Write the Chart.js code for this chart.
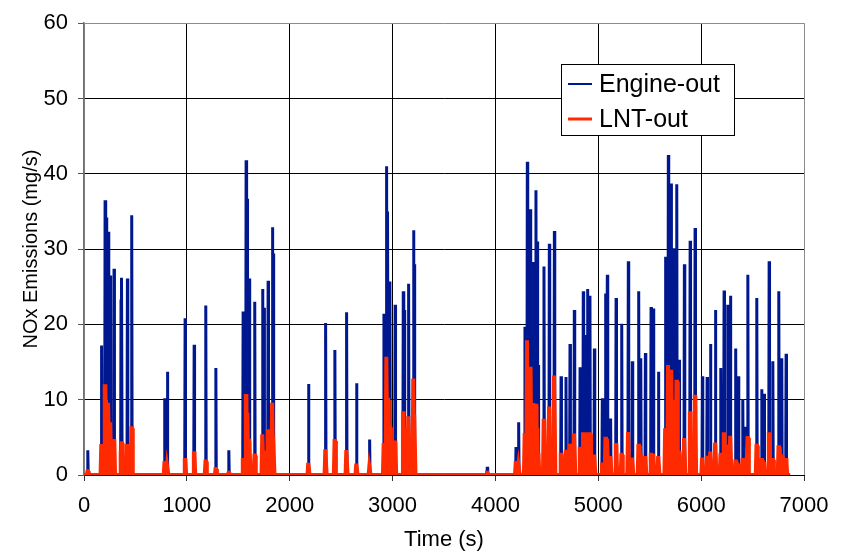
<!DOCTYPE html>
<html>
<head>
<meta charset="utf-8">
<script src="https://cdn.jsdelivr.net/npm/chart.js@4"></script>
<style>
  html, body { margin: 0; padding: 0; background: #fff; }
  #wrap { width: 843px; height: 553px; }
</style>
</head>
<body>
<div id="wrap"><canvas id="nox"></canvas></div>
<script>
// NOx traces over a drive cycle: engine-out vs. downstream of the lean NOx trap
const seriesLabels = ['Engine-out', 'LNT-out'];
const xTicks = [0, 1000, 2000, 3000, 4000, 5000, 6000, 7000];
const yTicks = [0, 10, 20, 30, 40, 50, 60];
const endTime = 6865;

// event times (s)
const spikeTimes = [
  37, 171, 205, 217, 237, 257, 292, 360, 367, 422, 464,
  785, 811, 983, 1071, 1184, 1282, 1408,
  1547, 1576, 1586, 1609, 1660, 1736, 1750, 1790, 1832, 1842,
  2183, 2349, 2439, 2553, 2650, 2777,
  2916, 2942, 2953, 2974, 3025, 3104, 3114, 3156, 3204, 3213,
  3921, 4200, 4226, 4287, 4310, 4339, 4365, 4394, 4405, 4416,
  4472, 4524, 4573, 4638, 4686, 4725, 4767, 4823, 4854, 4866,
  4897, 4919, 4962, 5039, 5072, 5088, 5120, 5173, 5228, 5292,
  5331, 5393, 5413, 5458, 5513, 5535, 5585, 5653, 5681, 5707,
  5730, 5763, 5786, 5837, 5893, 5941, 6012, 6058, 6091, 6139,
  6191, 6223, 6259, 6285, 6336, 6362, 6405, 6428, 6454, 6541,
  6590, 6612, 6661, 6697, 6755, 6784, 6826
];

// engine-out peaks (mg/s)
const enginePeaks = [
  3.3, 17.2, 36.5, 34.2, 32.3, 26.5, 27.4, 23.3, 26.2, 26.1, 34.5,
  10.2, 13.7, 20.8, 17.3, 22.5, 14.2, 3.3,
  21.7, 41.8, 36.7, 26.1, 23.0, 24.7, 22.2, 25.8, 32.9, 29.4,
  12.1, 20.2, 16.6, 21.6, 12.2, 4.7,
  21.4, 41.0, 35.0, 25.7, 22.6, 24.4, 21.9, 25.4, 32.5, 28.0,
  1.1, 3.7, 7.0, 19.7, 41.6, 35.3, 28.3, 37.8, 31.0, 14.6,
  27.7, 30.7, 32.4, 13.1, 13.0, 17.4, 21.9, 14.3, 24.4, 18.6,
  24.7, 23.8, 16.8, 10.2, 24.1, 26.6, 7.5, 23.5, 20.1, 28.4,
  15.1, 24.4, 15.5, 16.2, 22.3, 22.1, 13.7, 29.0, 42.5, 38.7,
  30.1, 38.6, 15.3, 28.0, 31.1, 32.8, 13.1, 13.0, 17.4, 21.9,
  14.2, 24.5, 22.6, 23.8, 16.8, 13.1, 10.1, 6.4, 26.6, 23.5,
  11.4, 10.8, 28.4, 15.1, 24.4, 15.5, 16.1
];

// LNT-out peaks (mg/s)
const lntPeaks = [
  0.5, 4.1, 11.8, 10.0, 9.6, 7.0, 4.5, 3.0, 4.2, 4.1, 6.2,
  1.6, 1.2, 2.0, 2.9, 1.8, 0.8, 0.3,
  2.0, 10.5, 8.0, 4.8, 2.6, 5.4, 3.0, 5.8, 9.6, 5.0,
  1.6, 3.4, 4.5, 3.3, 1.5, 1.1,
  4.0, 15.7, 10.0, 6.3, 4.3, 8.2, 6.0, 7.8, 12.8, 8.0,
  0.3, 1.6, 1.4, 5.3, 17.9, 14.1, 9.3, 9.2, 6.0, 2.7,
  7.2, 9.1, 13.2, 2.7, 3.1, 3.9, 5.5, 3.5, 5.4, 4.0,
  5.4, 5.4, 2.7, 1.4, 4.8, 4.8, 2.5, 4.0, 2.7, 5.7,
  2.3, 3.9, 2.5, 2.5, 2.7, 2.8, 2.5, 6.2, 14.6, 13.7,
  10.0, 12.4, 3.0, 4.9, 8.2, 10.4, 2.3, 2.3, 3.1, 4.3,
  2.7, 5.4, 3.8, 5.2, 1.8, 1.5, 2.0, 1.5, 4.9, 3.9,
  2.0, 1.5, 5.4, 2.0, 3.7, 2.5, 2.0
];

const BLUE = '#00188f';
const RED = '#ff2a00';
const FONT = '"Liberation Sans", Arial, sans-serif';

// each event rises from the zero line to its peak and drops back
function trace(peaks, half, top) {
  const pts = [{ x: 0, y: 0 }];
  spikeTimes.forEach((t, i) => {
    pts.push({ x: t - half, y: 0 });
    if (top) {
      pts.push({ x: t - top, y: peaks[i] });
      pts.push({ x: t + top, y: peaks[i] });
    } else {
      pts.push({ x: t, y: peaks[i] });
    }
    pts.push({ x: t + half, y: 0 });
  });
  pts.push({ x: endTime, y: 0 });
  return pts;
}

const boxLegend = {
  id: 'boxLegend',
  afterDraw(chart) {
    const ctx = chart.ctx;
    ctx.save();
    ctx.fillStyle = '#fff';
    ctx.fillRect(561.5, 64.5, 173, 71);
    ctx.strokeStyle = '#000';
    ctx.lineWidth = 1;
    ctx.strokeRect(561.5, 64.5, 173, 71);
    const rows = [
      { label: seriesLabels[0], color: BLUE, width: 2, y: 84 },
      { label: seriesLabels[1], color: RED, width: 3, y: 119 },
    ];
    ctx.font = '25px ' + FONT;
    ctx.textBaseline = 'middle';
    rows.forEach((r) => {
      ctx.strokeStyle = r.color;
      ctx.lineWidth = r.width;
      ctx.beginPath();
      ctx.moveTo(568, r.y);
      ctx.lineTo(592, r.y);
      ctx.stroke();
      ctx.fillStyle = '#000';
      ctx.fillText(r.label, 599, r.y + 1);
    });
    ctx.restore();
  },
};

new Chart(document.getElementById('nox'), {
  type: 'line',
  data: {
    datasets: [
      {
        label: seriesLabels[1],
        data: trace(lntPeaks, 10, 3),
        borderColor: RED,
        borderWidth: 4,
        pointRadius: 0,
        tension: 0,
        order: 0,
      },
      {
        label: seriesLabels[0],
        data: trace(enginePeaks, 4, 0),
        borderColor: BLUE,
        borderWidth: 3,
        pointRadius: 0,
        tension: 0,
        order: 1,
      },
    ],
  },
  options: {
    responsive: true,
    maintainAspectRatio: false,
    animation: false,
    layout: { padding: { top: 21, right: 39, left: 0, bottom: 0 } },
    plugins: { legend: { display: false }, tooltip: { enabled: false } },
    scales: {
      x: {
        type: 'linear',
        min: 0,
        max: 7000,
        afterBuildTicks: (s) => { s.ticks = xTicks.map((v) => ({ value: v })); },
        afterFit: (s) => { s.height = 78; },
        border: { color: '#000', width: 1 },
        grid: {
          color: (c) => (c.tick && (c.tick.value === 7000 || c.tick.value === 0) ? '#8c8c8c' : '#000'),
          tickColor: '#333',
          tickLength: 6,
          lineWidth: 1,
        },
        ticks: {
          color: '#000',
          padding: 12,
          maxRotation: 0,
          font: { family: FONT, size: 22 },
          callback: (v) => String(v),
        },
        title: {
          display: true,
          text: 'Time (s)',
          color: '#000',
          padding: { top: 0, bottom: 0 },
          font: { family: FONT, size: 22 },
        },
      },
      y: {
        min: 0,
        max: 60,
        afterBuildTicks: (s) => { s.ticks = yTicks.map((v) => ({ value: v })); },
        afterFit: (s) => { s.width = 84; },
        border: { color: '#707070', width: 1.5 },
        grid: {
          color: (c) => (c.tick && c.tick.value === 60 ? '#8c8c8c' : '#000'),
          tickColor: '#555',
          tickLength: 6,
          lineWidth: 1,
        },
        ticks: {
          color: '#000',
          padding: 10,
          font: { family: FONT, size: 22 },
          callback: (v) => String(v),
        },
        title: {
          display: true,
          text: 'NOx Emissions (mg/s)',
          color: '#000',
          padding: { top: 19, bottom: 0 },
          font: { family: FONT, size: 20 },
        },
      },
    },
  },
  plugins: [boxLegend],
});
</script>
</body>
</html>
